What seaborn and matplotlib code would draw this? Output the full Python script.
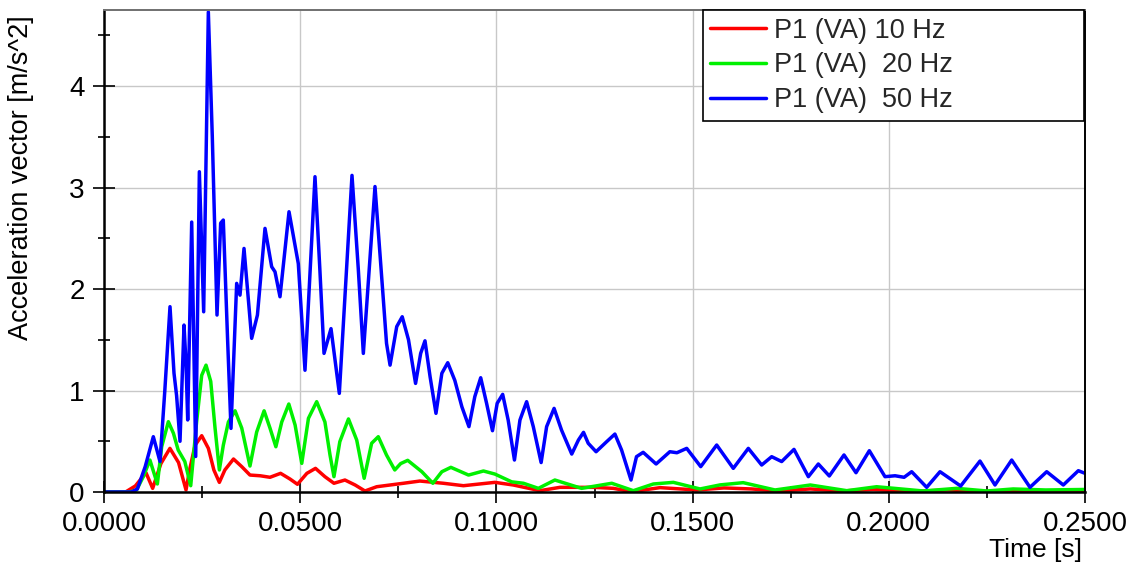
import numpy as np
import pandas as pd
import matplotlib
matplotlib.use("Agg")
import matplotlib.pyplot as plt
import seaborn as sns
from matplotlib.ticker import MultipleLocator, FormatStrFormatter

# ---- data: (time [s], acceleration [m/s^2]) ----
series_names = ["P1 (VA) 10 Hz", "P1 (VA)  20 Hz", "P1 (VA)  50 Hz"]
series_colors = ["#ff0000", "#00f000", "#0000ff"]

points_10hz = [
    (0, 0), (0.0055, 0), (0.008, 0.06), (0.0107, 0.19), (0.0124, 0.036), (0.0145, 0.28),
    (0.0168, 0.43), (0.019, 0.29), (0.0209, 0.02), (0.0219, 0.233), (0.0232, 0.46),
    (0.0249, 0.555), (0.0266, 0.43), (0.028, 0.217), (0.0294, 0.095), (0.0308, 0.217),
    (0.033, 0.325), (0.0351, 0.25), (0.0372, 0.167), (0.0398, 0.16), (0.0423, 0.145),
    (0.045, 0.184), (0.0474, 0.128), (0.0493, 0.076), (0.0517, 0.184), (0.0539, 0.233),
    (0.0563, 0.151), (0.0586, 0.086), (0.0614, 0.118), (0.064, 0.069), (0.0665, 0.01),
    (0.0695, 0.052), (0.0729, 0.069), (0.0763, 0.086), (0.0805, 0.108), (0.0865, 0.086),
    (0.0916, 0.062), (0.0996, 0.095), (0.1043, 0.069), (0.1111, 0.013), (0.1162, 0.046),
    (0.1247, 0.046), (0.1298, 0.036), (0.1345, 0.003), (0.1417, 0.043), (0.1510, 0.02),
    (0.1580, 0.04), (0.1650, 0.03), (0.1720, 0.01), (0.1800, 0.03), (0.1880, 0.01),
    (0.1960, 0.025), (0.2060, 0.005), (0.2150, 0.02), (0.2250, 0.005), (0.2330, 0.015),
    (0.2420, 0.005), (0.2500, 0.01),
]

points_20hz = [
    (0, 0), (0.0065, 0), (0.0083, 0.02), (0.010, 0.15), (0.0117, 0.315), (0.0136, 0.079),
    (0.0147, 0.446), (0.0164, 0.693), (0.0177, 0.578), (0.0189, 0.414), (0.0206, 0.30),
    (0.0221, 0.062), (0.0236, 0.69), (0.0249, 1.15), (0.026, 1.25), (0.0272, 1.09),
    (0.0283, 0.63), (0.0294, 0.217), (0.0304, 0.46), (0.0317, 0.69), (0.0334, 0.80),
    (0.0351, 0.63), (0.0372, 0.256), (0.0389, 0.59), (0.0408, 0.80), (0.0423, 0.63),
    (0.0438, 0.446), (0.0453, 0.69), (0.0471, 0.867), (0.0487, 0.66), (0.0504, 0.282),
    (0.0521, 0.726), (0.0542, 0.89), (0.0563, 0.69), (0.0576, 0.364), (0.0586, 0.151),
    (0.0601, 0.496), (0.0623, 0.72), (0.0644, 0.512), (0.0663, 0.135), (0.0682, 0.48),
    (0.0699, 0.545), (0.0720, 0.364), (0.0741, 0.217), (0.0756, 0.28), (0.0774, 0.312),
    (0.081, 0.20), (0.0838, 0.086), (0.0861, 0.20), (0.0884, 0.243), (0.0929, 0.167),
    (0.0967, 0.207), (0.0996, 0.177), (0.1039, 0.10), (0.1069, 0.086), (0.1107, 0.036),
    (0.1149, 0.118), (0.1217, 0.036), (0.1294, 0.086), (0.1349, 0.013), (0.14, 0.079),
    (0.1451, 0.095), (0.1519, 0.03), (0.157, 0.07), (0.1629, 0.092), (0.171, 0.02),
    (0.18, 0.069), (0.1893, 0.013), (0.1969, 0.052), (0.2088, 0.01), (0.2173, 0.036),
    (0.225, 0.01), (0.2317, 0.03), (0.24, 0.02), (0.25, 0.025),
]

points_50hz = [
    (0, 0), (0.007, 0), (0.0085, 0.03), (0.0105, 0.25), (0.01257, 0.545), (0.01427, 0.30),
    (0.0155, 1.0), (0.01682, 1.826), (0.01784, 1.17), (0.0185, 0.95), (0.01937, 0.50),
    (0.02039, 1.645), (0.0209, 1.27), (0.02133, 0.71), (0.02235, 2.66), (0.02337, 0.35),
    (0.0243, 3.156), (0.0254, 1.776), (0.02659, 4.73), (0.0276, 3.5), (0.0288, 1.744),
    (0.02973, 2.65), (0.0304, 2.68), (0.0315, 1.5), (0.03236, 0.627), (0.03381, 2.056),
    (0.03466, 1.94), (0.03568, 2.40), (0.03763, 1.514), (0.0391, 1.744), (0.04103, 2.598),
    (0.04273, 2.22), (0.04358, 2.17), (0.04485, 1.924), (0.04715, 2.762), (0.04952, 2.25),
    (0.05122, 1.20), (0.05377, 3.107), (0.0550, 2.2), (0.05607, 1.366), (0.05785, 1.61),
    (0.05997, 0.972), (0.0632, 3.12), (0.0648, 2.2), (0.06609, 1.366), (0.06906, 3.01),
    (0.0712, 1.89), (0.072, 1.465), (0.0729, 1.25), (0.0746, 1.63), (0.076, 1.727),
    (0.0776, 1.50), (0.0794, 1.07), (0.0807, 1.366), (0.0818, 1.49), (0.0831, 1.136),
    (0.0846, 0.775), (0.0861, 1.17), (0.0876, 1.274), (0.0894, 1.10), (0.0912, 0.84),
    (0.093, 0.644), (0.0945, 0.94), (0.096, 1.126), (0.0975, 0.874), (0.099, 0.604),
    (0.1002, 0.874), (0.1016, 0.962), (0.103, 0.709), (0.1046, 0.315), (0.106, 0.709),
    (0.1077, 0.89), (0.1094, 0.644), (0.1114, 0.29), (0.1128, 0.644), (0.1147, 0.824),
    (0.1166, 0.61), (0.1192, 0.374), (0.1209, 0.512), (0.1222, 0.588), (0.1234, 0.48),
    (0.1254, 0.397), (0.1281, 0.496), (0.1302, 0.571), (0.1319, 0.414), (0.1343, 0.118),
    (0.1357, 0.348), (0.1374, 0.391), (0.1407, 0.276), (0.1442, 0.397), (0.146, 0.387),
    (0.1485, 0.43), (0.15207, 0.25), (0.15614, 0.463), (0.16037, 0.233), (0.1642, 0.43),
    (0.1676, 0.266), (0.17015, 0.348), (0.1727, 0.30), (0.17584, 0.42), (0.1795, 0.151),
    (0.18204, 0.276), (0.18484, 0.158), (0.18858, 0.365), (0.19164, 0.19), (0.19504, 0.407),
    (0.19903, 0.151), (0.2016, 0.16), (0.2039, 0.145), (0.20583, 0.20), (0.20965, 0.046),
    (0.21305, 0.20), (0.21832, 0.059), (0.22324, 0.305), (0.22706, 0.069), (0.23132, 0.315),
    (0.23598, 0.046), (0.24024, 0.20), (0.24447, 0.069), (0.2483, 0.21), (0.25, 0.184),
]

x_ticks_major = [0.0, 0.05, 0.10, 0.15, 0.20, 0.25]
y_ticks_major = [0, 1, 2, 3, 4]

# ---- build long table ----
frames = []
for name, pts in zip(series_names, [points_10hz, points_20hz, points_50hz]):
    t, a = zip(*pts)
    frames.append(pd.DataFrame({"t": t, "a": a, "series": name}))
df = pd.concat(frames, ignore_index=True)

sns.set_theme(style="white")
plt.rcParams["font.family"] = ["Liberation Sans", "DejaVu Sans"]

fig = plt.figure(figsize=(11.31, 5.64), dpi=100)
ax = fig.add_axes([104 / 1131, 72 / 564, 981 / 1131, 482 / 564])

sns.lineplot(data=df, x="t", y="a", hue="series", hue_order=series_names,
             palette=series_colors, sort=False, estimator=None,
             linewidth=2.5, ax=ax)

ax.set_xlim(0, 0.25)
ax.set_ylim(0, 4.75)
ax.set_xticks(x_ticks_major)
ax.set_yticks(y_ticks_major)
ax.xaxis.set_minor_locator(MultipleLocator(0.025))
ax.yaxis.set_minor_locator(MultipleLocator(0.5))
ax.xaxis.set_major_formatter(FormatStrFormatter("%.4f"))
ax.yaxis.set_major_formatter(FormatStrFormatter("%d"))

ax.grid(True, which="major", color="#c8c8c8", linewidth=1.0)
ax.set_axisbelow(True)

ax.tick_params(which="major", direction="inout", length=16, width=1.2, color="black",
               labelsize=20, labelcolor="black", pad=6)
ax.tick_params(which="minor", direction="inout", length=8.5, width=1.2, color="black")
ax.tick_params(axis="x", which="both", bottom=True, top=False)
ax.tick_params(axis="y", which="both", left=True, right=False)

for side in ["left", "bottom"]:
    ax.spines[side].set_color("black")
    ax.spines[side].set_linewidth(1.8)
ax.spines["right"].set_color("black")
ax.spines["right"].set_linewidth(1.4)
ax.spines["top"].set_color("#707070")
ax.spines["top"].set_linewidth(1.4)

ax.set_ylabel("Acceleration vector [m/s^2]", fontsize=19.5, color="black")
ax.yaxis.set_label_coords(-0.071, 0.6525)
ax.set_xlabel("Time [s]", fontsize=19, color="black", ha="right", va="center")
ax.xaxis.set_label_coords(0.997, -0.12)

handles, labels = ax.get_legend_handles_labels()
leg = ax.legend(handles, labels, loc="upper left",
                bbox_to_anchor=(0.6106, 0.0, 0.3884, 0.9995), mode="expand",
                fontsize=19.5, frameon=True, fancybox=False, framealpha=1,
                edgecolor="black", handlelength=2.05, handletextpad=0.3,
                labelspacing=0.33, borderpad=0.27, borderaxespad=0.0)
leg.get_frame().set_linewidth(1.2)
for line in leg.get_lines():
    line.set_linewidth(2.5)

fig.savefig("out.png", dpi=100)
